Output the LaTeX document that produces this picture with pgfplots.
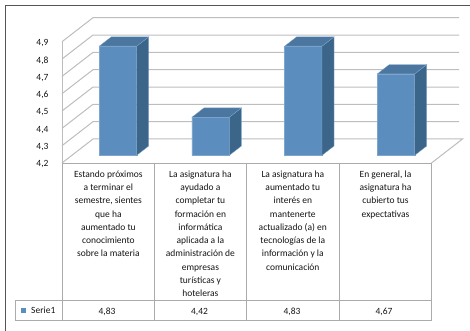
\documentclass[border=0pt]{standalone}
\usepackage{pgfplots}
\pgfplotsset{compat=1.18}
\usepackage{pgfplotstable}
\usepackage{fontspec}
\setmainfont{Carlito}
\definecolor{gridc}{HTML}{BDBDBD}
\definecolor{tablec}{HTML}{ABABAB}
\definecolor{framec}{HTML}{555555}
\definecolor{barfront}{HTML}{5B8DBE}
\definecolor{bartop}{HTML}{4A76A0}
\definecolor{barside}{HTML}{3C6689}
\definecolor{baredge}{HTML}{7FA5CC}
\definecolor{textc}{HTML}{141414}
% Mean score for each question of the survey
\pgfplotstableread{
pos value
0.5 4.83
1.5 4.42
2.5 4.83
3.5 4.67
}\scores
\newcommand{\cell}[2]{\node[anchor=north,align=center,font=\fontsize{9.5}{13.25}\selectfont,text=textc,inner sep=0pt] at (#1,{331-170.5}) {#2};}
\begin{document}
\begin{tikzpicture}[x=1pt,y=1pt]
\path[use as bounding box] (0,0) rectangle (470,331);
% outer chart border
\draw[framec,line width=1.2pt] (5.5,0) -- (5.5,325.5) -- (470,325.5);

% back wall, side wall and floor
\begin{axis}[
  at={(62pt,168pt)},anchor=south west,
  width=369.5pt,height=121.3pt,scale only axis,
  xmin=0,xmax=4,ymin=4.2,ymax=4.9,
  clip=false,
  axis line style={draw=none},
  xtick=\empty,
  ytick={4.2,4.3,4.4,4.5,4.6,4.7,4.8,4.9},
  major tick length=0pt,
  yticklabel style={font=\fontsize{9.5}{11}\selectfont,text=textc,yshift=-1.5pt,xshift=-10pt},
  /pgf/number format/.cd,use comma,fixed,fixed zerofill,precision=1,assume math mode=true,
]
% wall lines, one per tick value
\addplot[gridc,line width=1pt] coordinates {(0,4.3) (0.3356,4.4385) (4.3,4.4385)};
\addplot[gridc,line width=1pt] coordinates {(0,4.4) (0.3356,4.5385) (4.3,4.5385)};
\addplot[gridc,line width=1pt] coordinates {(0,4.5) (0.3356,4.6385) (4.3,4.6385)};
\addplot[gridc,line width=1pt] coordinates {(0,4.6) (0.3356,4.7385) (4.3,4.7385)};
\addplot[gridc,line width=1pt] coordinates {(0,4.7) (0.3356,4.8385) (4.3,4.8385)};
\addplot[gridc,line width=1pt] coordinates {(0,4.8) (0.3356,4.9385) (4.3,4.9385)};
\addplot[gridc,line width=1pt] coordinates {(0,4.9) (0.3356,5.0385) (4.3,5.0385)};
\addplot[gridc,line width=1pt] coordinates {(0,4.2) (0.3356,4.3385) (4.3356,4.3385) (4,4.2)};
\addplot[gridc,line width=1pt] coordinates {(0,4.2) (0,4.9)};
\end{axis}

% bars stand on the floor, so their axis sits a little further back
\begin{axis}[
  at={(71.67pt,175.7pt)},anchor=south west,
  width=370.7pt,height=121.3pt,scale only axis,
  xmin=0,xmax=4,ymin=4.2,ymax=4.9,
  clip=false,
  axis lines=none,
]
\addplot[ybar,bar width=37.4pt,fill=barfront,draw=baredge,line width=0.4pt] table[x=pos,y=value] {\scores};
% side faces
\addplot[fill=barside,draw=baredge,line width=0.3pt] coordinates {(0.7018,4.2) (0.8313,4.2537) (0.8313,4.8837) (0.7018,4.83)} -- cycle;
\addplot[fill=barside,draw=baredge,line width=0.3pt] coordinates {(1.7018,4.2) (1.8313,4.2537) (1.8313,4.4737) (1.7018,4.42)} -- cycle;
\addplot[fill=barside,draw=baredge,line width=0.3pt] coordinates {(2.7018,4.2) (2.8313,4.2537) (2.8313,4.8837) (2.7018,4.83)} -- cycle;
\addplot[fill=barside,draw=baredge,line width=0.3pt] coordinates {(3.7018,4.2) (3.8313,4.2537) (3.8313,4.7237) (3.7018,4.67)} -- cycle;
% top faces
\addplot[fill=bartop,draw=baredge,line width=0.3pt] coordinates {(0.2982,4.83) (0.7018,4.83) (0.8313,4.8837) (0.4277,4.8837)} -- cycle;
\addplot[fill=bartop,draw=baredge,line width=0.3pt] coordinates {(1.2982,4.42) (1.7018,4.42) (1.8313,4.4737) (1.4277,4.4737)} -- cycle;
\addplot[fill=bartop,draw=baredge,line width=0.3pt] coordinates {(2.2982,4.83) (2.7018,4.83) (2.8313,4.8837) (2.4277,4.8837)} -- cycle;
\addplot[fill=bartop,draw=baredge,line width=0.3pt] coordinates {(3.2982,4.67) (3.7018,4.67) (3.8313,4.7237) (3.4277,4.7237)} -- cycle;
\end{axis}

% data table under the plot
\draw[tablec,line width=0.8pt] (62.3,168) -- (431.7,168);
\draw[tablec,line width=0.8pt] (15.3,30.7) rectangle (431.7,10.7);
\foreach \x in {62.3,154.5,246.3,339.3,431.7} \draw[tablec,line width=0.8pt] (\x,168) -- (\x,10.7);
\cell{108.4}{Estando próximos\\a terminar el\\semestre, sientes\\que ha\\aumentado tu\\conocimiento\\sobre la materia}
\cell{200.4}{La asignatura ha\\ayudado a\\completar tu\\formación en\\informática\\aplicada a la\\administración de\\empresas\\turísticas y\\hoteleras}
\cell{292.8}{La asignatura ha\\aumentado tu\\interés en\\mantenerte\\actualizado (a) en\\tecnologías de la\\información y la\\comunicación}
\cell{385.5}{En general, la\\asignatura ha\\cubierto tus\\expectativas}
\fill[barfront] (20.7,18.3) rectangle (26,23);
\node[anchor=west,font=\fontsize{9.5}{11}\selectfont,text=textc,inner sep=0pt] at (31,20.3) {Serie1};
\foreach \x/\t in {107/{4,83},199.5/{4,42},292/{4,83},384/{4,67}}
  \node[font=\fontsize{9.5}{11}\selectfont,text=textc,inner sep=0pt] at (\x,19) {\t};
\end{tikzpicture}
\end{document}
